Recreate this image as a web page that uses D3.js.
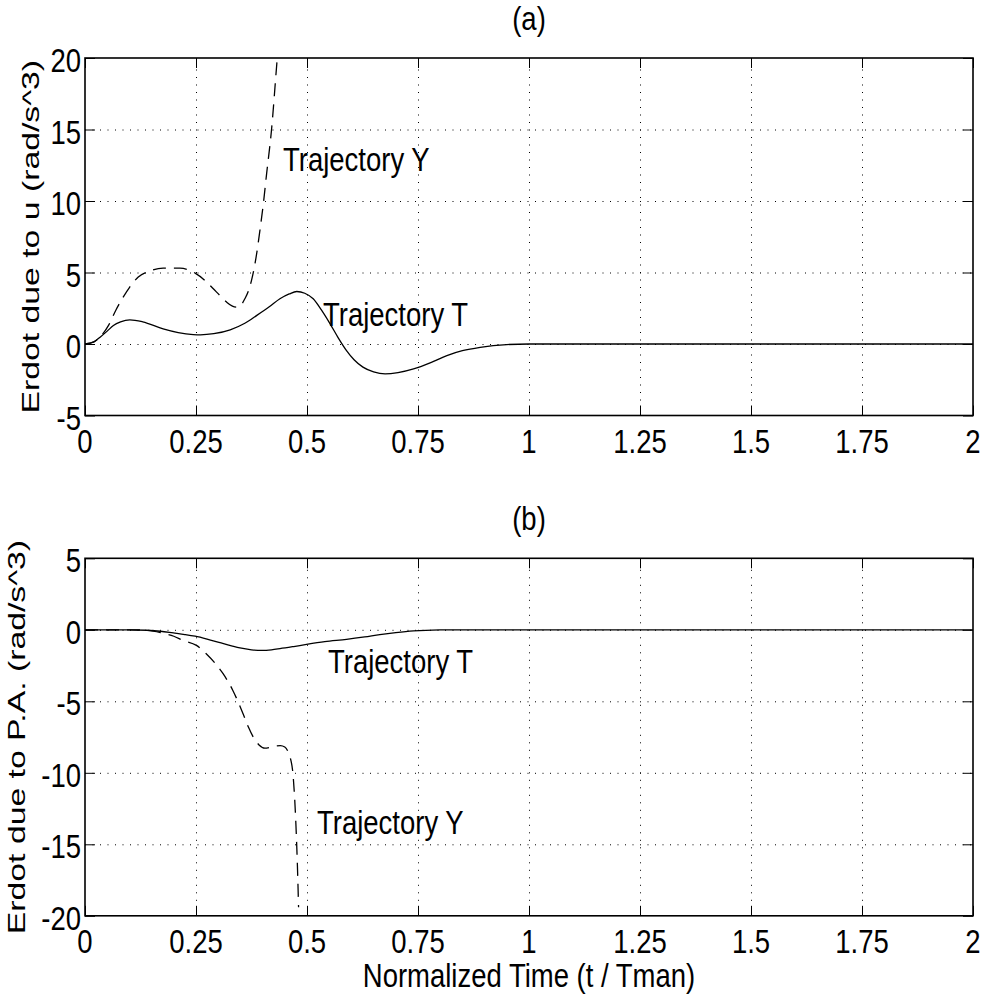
<!DOCTYPE html>
<html lang="en">
<head>
<meta charset="UTF-8">
<title>Erdot due to u / P.A.</title>
<script src="https://d3js.org/d3.v7.min.js"></script>
<style>
    body { margin: 0; background: #fff; }
    svg { display: block; }
    text { font-family: "Liberation Sans", Arial, Helvetica, sans-serif; fill: #000; }
</style>
</head>
<body>
<script>
    const width = 985;
    const height = 1000;
    const plotLeft = 85;
    const plotRight = 973;

    // axis ticks
    const xTicks = [0, 0.25, 0.5, 0.75, 1, 1.25, 1.5, 1.75, 2];
    const xTickLabels = ["0", "0.25", "0.5", "0.75", "1", "1.25", "1.5", "1.75", "2"];
    const yTicksA = [-5, 0, 5, 10, 15, 20];
    const yTicksB = [-20, -15, -10, -5, 0, 5];

    // (a) Erdot due to u, trajectory T (solid)
    const tTa = [0, 0.02, 0.034, 0.05, 0.064, 0.08, 0.101, 0.13, 0.176, 0.21, 0.244, 0.26, 0.29, 0.327, 0.36, 0.387,
        0.415, 0.439, 0.46, 0.477, 0.495, 0.514, 0.532, 0.552, 0.57, 0.589, 0.606, 0.626, 0.65, 0.676, 0.705, 0.74,
        0.78, 0.815, 0.85, 0.89, 0.95, 1.0, 2.0];
    const erdotTa = [0, 0.15, 0.48, 0.9, 1.3, 1.55, 1.69, 1.55, 1.06, 0.8, 0.66, 0.64, 0.72, 0.99, 1.45, 2.0,
        2.6, 3.16, 3.5, 3.67, 3.55, 3.16, 2.4, 1.41, 0.45, -0.46, -1.1, -1.62, -1.95, -2.09, -2.0, -1.74,
        -1.28, -0.81, -0.47, -0.23, -0.04, 0, 0];

    // (a) Erdot due to u, trajectory Y (dashed)
    const tYa = [0, 0.02, 0.034, 0.053, 0.07, 0.086, 0.1, 0.12, 0.145, 0.176, 0.214, 0.248, 0.27, 0.289, 0.305,
        0.319, 0.332, 0.342, 0.352, 0.36, 0.368, 0.375, 0.385, 0.394, 0.402, 0.409, 0.42, 0.432, 0.437];
    const erdotYa = [0, 0.15, 0.5, 1.3, 2.4, 3.28, 3.95, 4.68, 5.1, 5.3, 5.3, 4.96, 4.45, 3.86, 3.35,
        2.93, 2.65, 2.58, 2.75, 3.16, 3.7, 4.45, 6.0, 7.95, 9.9, 11.9, 14.95, 19.6, 21.5];

    // (b) Erdot due to P.A., trajectory T (solid)
    const tTb = [0, 0.1, 0.139, 0.17, 0.199, 0.225, 0.248, 0.275, 0.304, 0.33, 0.349, 0.375, 0.398, 0.42, 0.439,
        0.47, 0.499, 0.54, 0.589, 0.63, 0.664, 0.7, 0.74, 0.8, 0.85, 2.0];
    const erdotTb = [0, 0, -0.03, -0.1, -0.22, -0.33, -0.45, -0.65, -0.9, -1.12, -1.27, -1.4, -1.44, -1.4, -1.32,
        -1.17, -1.02, -0.83, -0.67, -0.5, -0.34, -0.2, -0.08, -0.01, 0, 0];

    // (b) Erdot due to P.A., trajectory Y (dashed)
    const tYb = [0, 0.1, 0.139, 0.17, 0.2, 0.221, 0.251, 0.273, 0.292, 0.311, 0.333, 0.356, 0.368, 0.379, 0.392,
        0.405, 0.424, 0.44, 0.45, 0.457, 0.462, 0.469, 0.475, 0.479, 0.481];
    const erdotYb = [0, 0, -0.04, -0.2, -0.45, -0.74, -1.09, -1.67, -2.3, -3.07, -4.24, -5.87, -6.8, -7.5, -8.05,
        -8.28, -8.16, -8.1, -8.2, -8.5, -8.9, -10.3, -13.6, -17.1, -19.4];

    const svg = d3.select("body")
        .append("svg")
        .attr("width", width)
        .attr("height", height);

    // text in the original is stretched vertically
    function label(g, str, x, y, anchor, rotated) {
        return g.append("text")
            .attr("text-anchor", anchor)
            .attr("font-size", rotated ? 23.3 : 27.5)
            .attr("transform", rotated
                ? `translate(${x},${y}) rotate(-90) scale(1.45,1)`
                : `translate(${x},${y}) scale(1,1.2)`)
            .text(str);
    }

    function drawPanel(p) {
        const x = d3.scaleLinear().domain([0, 2]).range([plotLeft, plotRight]);
        const y = d3.scaleLinear().domain(p.yDomain).range([p.bottom, p.top]);
        const h = p.bottom - p.top;
        const w = plotRight - plotLeft;
        const g = svg.append("g");

        // dotted grid
        const gridStyle = sel => {
            sel.select(".domain").remove();
            sel.selectAll("line")
                .attr("stroke", "#000")
                .attr("stroke-width", 1)
                .attr("stroke-dasharray", "1,6.5");
        };
        g.append("g")
            .attr("transform", `translate(0,${p.bottom})`)
            .call(d3.axisBottom(x).tickValues(xTicks.slice(1, -1)).tickSize(-h).tickFormat(""))
            .call(gridStyle);
        g.append("g")
            .attr("transform", `translate(${plotLeft},0)`)
            .call(d3.axisLeft(y).tickValues(p.yTicks.slice(1, -1)).tickSize(-w).tickFormat(""))
            .call(gridStyle);

        // inward ticks on all four sides
        const tickStyle = sel => {
            sel.select(".domain").remove();
            sel.selectAll("line").attr("stroke", "#000").attr("stroke-width", 1);
        };
        g.append("g").attr("transform", `translate(0,${p.bottom})`)
            .call(d3.axisBottom(x).tickValues(xTicks).tickSize(-10).tickFormat("")).call(tickStyle);
        g.append("g").attr("transform", `translate(0,${p.top})`)
            .call(d3.axisTop(x).tickValues(xTicks).tickSize(-10).tickFormat("")).call(tickStyle);
        g.append("g").attr("transform", `translate(${plotLeft},0)`)
            .call(d3.axisLeft(y).tickValues(p.yTicks).tickSize(-10).tickFormat("")).call(tickStyle);
        g.append("g").attr("transform", `translate(${plotRight},0)`)
            .call(d3.axisRight(y).tickValues(p.yTicks).tickSize(-10).tickFormat("")).call(tickStyle);

        // clip
        const clipId = "clip-" + p.name;
        g.append("clipPath").attr("id", clipId)
            .append("rect")
            .attr("x", plotLeft).attr("y", p.top)
            .attr("width", w).attr("height", h);

        const line = d3.line()
            .x(d => x(d[0]))
            .y(d => y(d[1]))
            .curve(d3.curveMonotoneX);

        p.series.forEach(s => {
            g.append("path")
                .datum(d3.zip(s.t, s.v))
                .attr("clip-path", `url(#${clipId})`)
                .attr("fill", "none")
                .attr("stroke", "#000")
                .attr("stroke-width", 1.3)
                .attr("stroke-dasharray", s.dashed ? "13,8" : null)
                .attr("d", line);
        });

        // box
        g.append("rect")
            .attr("x", plotLeft).attr("y", p.top)
            .attr("width", w).attr("height", h)
            .attr("fill", "none")
            .attr("stroke", "#000")
            .attr("stroke-width", 1.6);

        // tick labels
        xTicks.forEach((v, i) => label(g, xTickLabels[i], x(v), p.bottom + 37, "middle"));
        p.yTicks.forEach(v => label(g, String(v), plotLeft - 4, y(v) + 14, "end"));

        // title, y label, annotations
        label(g, p.title, (plotLeft + plotRight) / 2, p.top - 28, "middle");
        label(g, p.ylabel, p.ylabelX, (p.top + p.bottom) / 2, "middle", true);
        p.notes.forEach(n => label(g, n.text, n.x, n.y, "start"));
    }

    drawPanel({
        name: "a",
        title: "(a)",
        ylabel: "Erdot due to u (rad/s^3)",
        ylabelX: 39,
        top: 58,
        bottom: 415.5,
        yDomain: [-5, 20],
        yTicks: yTicksA,
        series: [
            { t: tTa, v: erdotTa, dashed: false },
            { t: tYa, v: erdotYa, dashed: true }
        ],
        notes: [
            { text: "Trajectory Y", x: 283, y: 171 },
            { text: "Trajectory T", x: 323, y: 326 }
        ]
    });

    drawPanel({
        name: "b",
        title: "(b)",
        ylabel: "Erdot due to P.A. (rad/s^3)",
        ylabelX: 25,
        top: 558.3,
        bottom: 915.8,
        yDomain: [-20, 5],
        yTicks: yTicksB,
        series: [
            { t: tTb, v: erdotTb, dashed: false },
            { t: tYb, v: erdotYb, dashed: true }
        ],
        notes: [
            { text: "Trajectory T", x: 328, y: 673 },
            { text: "Trajectory Y", x: 317, y: 834 }
        ]
    });

    label(svg, "Normalized Time (t / Tman)", (plotLeft + plotRight) / 2, 987, "middle");
</script>
</body>
</html>
